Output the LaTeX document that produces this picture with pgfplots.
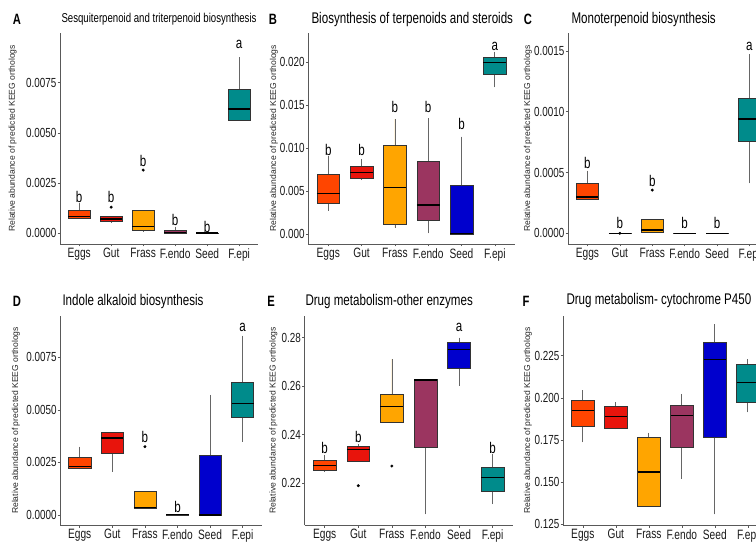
\documentclass[border=0pt]{standalone}
\usepackage{fontspec}
\setmainfont{Liberation Sans}
\newfontfamily\nf[FakeStretch=0.75]{Liberation Sans}
\usepackage{pgfplots}
\pgfplotsset{compat=1.18}
\usepgfplotslibrary{statistics}

\definecolor{cEggs}{HTML}{FF4500}
\definecolor{cGut}{HTML}{E8140C}
\definecolor{cFrass}{HTML}{FFA500}
\definecolor{cEndo}{HTML}{9B3560}
\definecolor{cSeed}{HTML}{0000CD}
\definecolor{cEpi}{HTML}{008B8B}

\newcommand\tickfont{\nf\fontsize{13.2}{14}\selectfont}
\newcommand\xtfont{\nf\fontsize{13.6}{15}\selectfont}
\newcommand\ylfont{\fontsize{8.6}{9}\selectfont}
\newcommand\titlefont{\nf\fontsize{15.5}{17}\selectfont}
\newcommand\letfont{\nf\fontsize{15.5}{16}\selectfont}
\newcommand\panfont{\nf\bfseries\fontsize{15}{16}\selectfont}

% box: position, lower whisker, q1, median, q3, upper whisker, colour, outliers
\newcommand\bx[8]{\addplot[boxplot prepared={draw direction=y,draw position=#1,lower whisker=#2,lower quartile=#3,median=#4,upper quartile=#5,upper whisker=#6},fill=#7,draw=black!80,line width=0.6bp,mark=*,mark size=1.3bp,mark options={draw=black,fill=black,line width=0.3bp}] coordinates {#8};}

\pgfplotsset{panel/.style={scale only axis, xmin=0.4, xmax=6.6,
  xtick={1,...,6}, xticklabels={Eggs,Gut,Frass,F.endo,Seed,F.epi},
  axis lines*=left, tick align=outside, major tick length=2.5bp,
  axis line style={draw=black!65,line width=0.6bp},
  every tick/.style={draw=black!65,line width=0.6bp},
  yticklabel style={font=\tickfont,text=black!90,inner sep=1bp},
  xticklabel style={font=\xtfont,text=black!90,inner sep=1.5bp},
  ylabel={Relative abundance of predicted KEEG orthologs},
  ylabel style={font=\ylfont,text=black!85,anchor=center},
  clip=false, scaled y ticks=false,
  boxplot/draw direction=y,
  boxplot/box extend=0.68, boxplot/whisker extend=0,
  boxplot/every whisker/.style={draw=black!60,line width=0.7bp},
  boxplot/every median/.style={draw=black,line width=1.5bp},
  anchor=south west}}

\begin{document}
\begin{tikzpicture}
% ---------------- A  (values in units of 1e-3)
\begin{axis}[panel, at={(60bp,301bp)}, width=198.4bp, height=211bp,
  ymin=-0.533, ymax=9.975,
  ytick={0,2.5,5,7.5}, yticklabels={0.0000,0.0025,0.0050,0.0075},
  ylabel style={at={(axis description cs:-0.239,0.5)}}]
\bx{1}{0.75}{0.75}{0.83}{1.16}{1.5}{cEggs}{}
\bx{2}{0.55}{0.58}{0.7}{0.83}{0.83}{cGut}{(0,1.3)}
\bx{3}{0.1}{0.13}{0.33}{1.13}{1.13}{cFrass}{(0,3.15)}
\bx{4}{0}{0}{0.03}{0.17}{0.33}{cEndo}{}
\bx{5}{0}{0}{0.01}{0.02}{0.02}{cSeed}{}
\bx{6}{5.64}{5.64}{6.19}{7.17}{8.76}{cEpi}{}
\node[font=\letfont] at (axis cs:1,1.8) {b};
\node[font=\letfont] at (axis cs:2,1.8) {b};
\node[font=\letfont] at (axis cs:3,3.6) {b};
\node[font=\letfont] at (axis cs:4,0.66) {b};
\node[font=\letfont] at (axis cs:5,0.33) {b};
\node[font=\letfont] at (axis cs:6,9.4) {a};
\end{axis}
% ---------------- B  (values in units of 1e-3)
\begin{axis}[panel, at={(308.3bp,301bp)}, width=206.5bp, height=211bp,
  ymin=-1.126, ymax=23.37,
  ytick={0,5,10,15,20}, yticklabels={0.000,0.005,0.010,0.015,0.020},
  ylabel style={at={(axis description cs:-0.166,0.5)}}]
\bx{1}{2.75}{3.6}{4.76}{6.96}{9.1}{cEggs}{}
\bx{2}{6.3}{6.5}{7.16}{7.85}{8.7}{cGut}{}
\bx{3}{0.77}{1.2}{5.45}{10.29}{13.4}{cFrass}{}
\bx{4}{0.1}{1.66}{3.4}{8.43}{13.46}{cEndo}{}
\bx{5}{0}{0}{0.1}{5.69}{11.33}{cSeed}{}
\bx{6}{17.06}{18.6}{19.92}{20.58}{21.2}{cEpi}{}
\node[font=\letfont] at (axis cs:1,9.8) {b};
\node[font=\letfont] at (axis cs:2,9.8) {b};
\node[font=\letfont] at (axis cs:3,14.8) {b};
\node[font=\letfont] at (axis cs:4,14.8) {b};
\node[font=\letfont] at (axis cs:5,12.8) {b};
\node[font=\letfont] at (axis cs:6,21.8) {a};
\end{axis}
% ---------------- C  (values in units of 1e-3)
\begin{axis}[panel, at={(568bp,301bp)}, width=200.9bp, height=211bp,
  ymin=-0.088, ymax=1.648,
  ytick={0,0.5,1,1.5}, yticklabels={0.0000,0.0005,0.0010,0.0015},
  ylabel style={at={(axis description cs:-0.2,0.5)}}]
\bx{1}{0.282}{0.282}{0.3}{0.414}{0.515}{cEggs}{}
\bx{2}{0}{0}{0}{0.003}{0.003}{cGut}{(0,0)}
\bx{3}{0.01}{0.01}{0.027}{0.115}{0.115}{cFrass}{(0,0.356)}
\bx{4}{0}{0}{0}{0.002}{0.002}{cEndo}{}
\bx{5}{0}{0}{0}{0.002}{0.002}{cSeed}{}
\bx{6}{0.41}{0.754}{0.94}{1.11}{1.475}{cEpi}{}
\node[font=\letfont] at (axis cs:1,0.58) {b};
\node[font=\letfont] at (axis cs:2,0.088) {b};
\node[font=\letfont] at (axis cs:3,0.43) {b};
\node[font=\letfont] at (axis cs:4,0.088) {b};
\node[font=\letfont] at (axis cs:5,0.088) {b};
\node[font=\letfont] at (axis cs:6,1.54) {a};
\end{axis}
% ---------------- D  (values in units of 1e-3)
\begin{axis}[panel, at={(60.2bp,20bp)}, width=202bp, height=209bp,
  ymin=-0.476, ymax=9.464,
  ytick={0,2.5,5,7.5}, yticklabels={0.0000,0.0025,0.0050,0.0075},
  ylabel style={at={(axis description cs:-0.219,0.5)}}]
\bx{1}{2.17}{2.22}{2.3}{2.73}{3.25}{cEggs}{}
\bx{2}{2.06}{2.93}{3.65}{3.93}{3.93}{cGut}{}
\bx{3}{0.32}{0.32}{0.35}{1.11}{1.11}{cFrass}{(0,3.25)}
\bx{4}{0}{0}{0.03}{0.03}{0.03}{cEndo}{}
\bx{5}{0}{0}{0}{2.85}{5.71}{cSeed}{}
\bx{6}{3.49}{4.63}{5.31}{6.31}{8.53}{cEpi}{}
\node[font=\letfont] at (axis cs:3,3.7) {b};
\node[font=\letfont] at (axis cs:4,0.4) {b};
\node[font=\letfont] at (axis cs:6,8.9) {a};
\end{axis}
% ---------------- E
\begin{axis}[panel, at={(304.5bp,20bp)}, width=208.3bp, height=209bp,
  ymin=0.20282, ymax=0.28894,
  ytick={0.22,0.24,0.26,0.28}, yticklabels={0.22,0.24,0.26,0.28},
  ylabel style={at={(axis description cs:-0.149,0.5)}}]
\bx{1}{0.2248}{0.2255}{0.2273}{0.2296}{0.2317}{cEggs}{}
\bx{2}{0.2289}{0.2289}{0.234}{0.2354}{0.2361}{cGut}{(0,0.219)}
\bx{3}{0.245}{0.245}{0.2516}{0.2568}{0.2712}{cFrass}{(0,0.2271)}
\bx{4}{0.2072}{0.2347}{0.2626}{0.2628}{0.2628}{cEndo}{}
\bx{5}{0.2601}{0.2674}{0.2752}{0.2779}{0.28}{cSeed}{}
\bx{6}{0.2114}{0.2168}{0.2223}{0.2267}{0.2319}{cEpi}{}
\node[font=\letfont] at (axis cs:1,0.2344) {b};
\node[font=\letfont] at (axis cs:2,0.2392) {b};
\node[font=\letfont] at (axis cs:5,0.2842) {a};
\node[font=\letfont] at (axis cs:6,0.2344) {b};
\end{axis}
% ---------------- F
\begin{axis}[panel, at={(563bp,20bp)}, width=204.6bp, height=209bp,
  ymin=0.12458, ymax=0.24855,
  ytick={0.125,0.15,0.175,0.2,0.225}, yticklabels={0.125,0.150,0.175,0.200,0.225},
  ylabel style={at={(axis description cs:-0.171,0.5)}}]
\bx{1}{0.1736}{0.1829}{0.1924}{0.1985}{0.2046}{cEggs}{}
\bx{2}{0.1815}{0.1821}{0.1888}{0.195}{0.1975}{cGut}{}
\bx{3}{0.1355}{0.1355}{0.156}{0.1764}{0.1793}{cFrass}{}
\bx{4}{0.1519}{0.1705}{0.1894}{0.1958}{0.2023}{cEndo}{}
\bx{5}{0.1309}{0.1764}{0.2228}{0.2327}{0.2436}{cSeed}{}
\bx{6}{0.1914}{0.1973}{0.209}{0.2197}{0.223}{cEpi}{}
\end{axis}
% ---------------- titles and panel letters
\node[anchor=west,font=\nf\fontsize{12.9}{14}\selectfont] at (58bp,525.7bp) {Sesquiterpenoid and triterpenoid biosynthesis};
\node[anchor=west,font=\titlefont] at (308bp,525bp) {Biosynthesis of terpenoids and steroids};
\node[anchor=west,font=\titlefont] at (568bp,525bp) {Monoterpenoid biosynthesis};
\node[anchor=west,font=\titlefont] at (59bp,243.3bp) {Indole alkaloid biosynthesis};
\node[anchor=west,font=\titlefont] at (302bp,243.3bp) {Drug metabolism-other enzymes};
\node[anchor=west,font=\titlefont] at (563bp,244bp) {Drug metabolism- cytochrome P450};
\node[font=\panfont] at (17bp,526bp) {A};
\node[font=\panfont] at (273bp,526bp) {B};
\node[font=\panfont] at (528bp,526bp) {C};
\node[font=\panfont] at (17bp,243.5bp) {D};
\node[font=\panfont] at (271bp,243.5bp) {E};
\node[font=\panfont] at (526bp,243.5bp) {F};
\pgfresetboundingbox
\useasboundingbox (0bp,0bp) rectangle (756bp,545bp);
\end{tikzpicture}
\end{document}
